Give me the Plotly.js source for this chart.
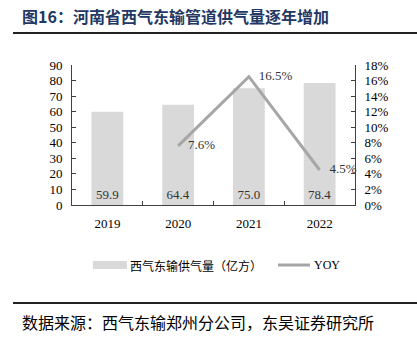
<!DOCTYPE html>
<html><head><meta charset="utf-8">
<script src="https://cdn.plot.ly/plotly-3.0.1.min.js"></script>
<style>html,body{margin:0;padding:0;background:#fff}#c{width:417px;height:342px}</style>
</head><body><div id="c"></div>
<script>
const years = ['2019','2020','2021','2022'];
const supply = [59.9, 64.4, 75.0, 78.4];
const supplyLabels = ['59.9','64.4','75.0','78.4'];
const yoy = [null, 0.076, 0.165, 0.045];
const yoyLabels = ['', '7.6%', '16.5%', '4.5%'];
const leftTicks = [0,10,20,30,40,50,60,70,80,90];

const L = 72, R = 355, T = 65, B = 205, W = 417, H = 342;
const px = x => (x - L) / (R - L);
const py = y => (B - y) / (B - T);

const serif = 'Liberation Serif, Times New Roman, serif';
const cjk = 'Noto Sans CJK SC, sans-serif';
const pad = '\u00a0\u00a0\u00a0';

const traces = [
  {type:'bar', x: years, y: supply, name:'西气东输供气量（亿方）',
   marker:{color:'#d9d9d9'}, width:0.45,
   text: supplyLabels, textposition:'inside', insidetextanchor:'start',
   textfont:{family:serif, size:13, color:'#333333'}, hoverinfo:'none', cliponaxis:false},
  {type:'scatter', mode:'lines+text', x: years, y: yoy, yaxis:'y2', name:'YOY',
   line:{color:'#a6a6a6', width:3}, text: yoyLabels.map(t => t ? pad + t : t), textposition:'middle right',
   textfont:{family:serif, size:13, color:'#333333'}, cliponaxis:false, hoverinfo:'none'}
];

const axisLine = '#404040';
const layout = {
  width: W, height: H, showlegend:false,
  margin:{l:L, r:W-R, t:T, b:H-B, pad:0},
  paper_bgcolor:'#fff', plot_bgcolor:'#fff',
  font:{family:serif, size:13, color:'#000'},
  title:{text:'图16：河南省西气东输管道供气量逐年增加', x:22/W, xanchor:'left', y:1-17/H, yanchor:'middle',
         font:{family:cjk, size:16, color:'#1f3864', weight:'bold'}},
  xaxis:{type:'category', showline:true, linecolor:axisLine, linewidth:1, ticks:'inside', tickson:'boundaries',
         ticklen:4, tickcolor:axisLine, showgrid:false, ticklabelstandoff:6,
         tickfont:{family:serif, size:13, color:'#000'}},
  yaxis:{range:[0,90], tickvals:leftTicks, showline:true, linecolor:axisLine, ticks:'inside', ticklen:4,
         tickcolor:axisLine, showgrid:false, zeroline:false, ticklabelstandoff:6,
         tickfont:{family:serif, size:13, color:'#000'}},
  yaxis2:{overlaying:'y', side:'right', range:[0,0.18], dtick:0.02, tickformat:'.0%', showline:true,
          linecolor:axisLine, ticks:'inside', ticklen:4, tickcolor:axisLine, showgrid:false, zeroline:false,
          ticklabelstandoff:6, tickfont:{family:serif, size:13, color:'#000'}},
  shapes:[
    {type:'line', xref:'paper', yref:'paper', x0:px(13), x1:px(417), y0:py(33), y1:py(33), line:{color:'#222', width:2}},
    {type:'line', xref:'paper', yref:'paper', x0:px(13), x1:px(417), y0:py(303), y1:py(303), line:{color:'#222', width:2}},
    {type:'rect', xref:'paper', yref:'paper', x0:px(93), x1:px(127), y0:py(269), y1:py(261), fillcolor:'#d9d9d9', line:{width:0}},
    {type:'line', xref:'paper', yref:'paper', x0:px(278), x1:px(310), y0:py(265), y1:py(265), line:{color:'#a6a6a6', width:3}}
  ],
  annotations:[
    {xref:'paper', yref:'paper', x:px(128), y:py(265), xanchor:'left', yanchor:'middle', showarrow:false,
     text:'西气东输供气量（亿方）', font:{family:cjk, size:12, color:'#000'}},
    {xref:'paper', yref:'paper', x:px(312), y:py(265), xanchor:'left', yanchor:'middle', showarrow:false,
     text:'YOY', font:{family:serif, size:12, color:'#000'}},
    {xref:'paper', yref:'paper', x:px(20), y:py(322), xanchor:'left', yanchor:'middle', showarrow:false,
     text:'数据来源：西气东输郑州分公司，东吴证券研究所', font:{family:cjk, size:16, color:'#000'}}
  ]
};
Plotly.newPlot('c', traces, layout, {staticPlot:true, displayModeBar:false});
</script></body></html>
